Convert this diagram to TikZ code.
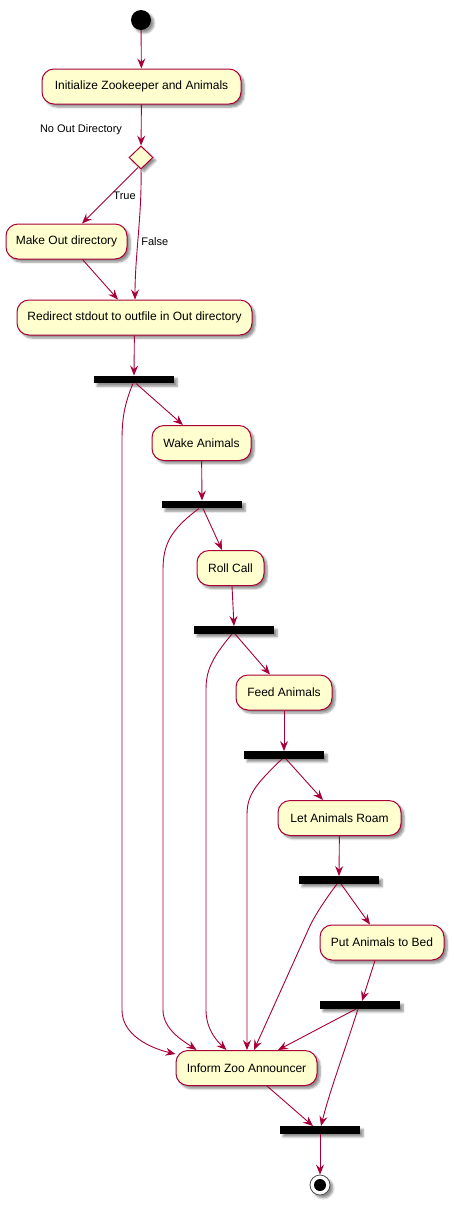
\documentclass[tikz,border=0pt]{standalone}
\usepackage{fontspec}
\setmainfont{Liberation Sans}
\usetikzlibrary{shapes.geometric,shadows.blur,arrows.meta,calc}
\definecolor{boxfill}{HTML}{FEFECE}
\definecolor{boxline}{HTML}{A80036}
\tikzset{
  shad/.style={blur shadow={shadow xshift=3pt,shadow yshift=-3pt,shadow blur steps=6,shadow opacity=45}},
  act/.style={shad,draw=boxline,fill=boxfill,line width=1pt,rounded corners=12pt,inner sep=0pt,
     minimum height=35pt,font=\fontsize{12}{14}\selectfont},
  bar/.style={shad,fill=black,minimum width=80pt,minimum height=7.5pt,inner sep=0pt},
  flow/.style={draw=boxline,line width=0.9pt,-{Stealth[length=10pt,width=8pt,inset=3.5pt]}},
  lab/.style={font=\fontsize{11}{13}\selectfont,inner sep=0pt}
}
\begin{document}
\begin{tikzpicture}[x=1pt,y=-1pt]
\useasboundingbox (0,0) rectangle (454,1205);
\node[shad,circle,fill=black,minimum size=20pt,inner sep=0pt] (start) at (141,20) {};
\node[act,minimum width=199pt] (init) at (141.5,86.5) {Initialize Zookeeper and Animals};
\node[shad,diamond,draw=boxline,fill=boxfill,line width=1pt,minimum width=24pt,minimum height=23pt,inner sep=0pt] (dia) at (141,157.5) {};
\node[lab] (nod) at (81,130) {No Out Directory};
\node[act,minimum width=121pt] (mk) at (66.5,241.5) {Make Out directory};
\node[act,minimum width=235pt] (redir) at (134.5,317.5) {Redirect stdout to outfile in Out directory};
\node[bar] (b1) at (134,379.5) {};
\node[act,minimum width=99pt] (wake) at (201.5,443) {Wake Animals};
\node[bar] (b2) at (202,504.5) {};
\node[act,minimum width=67pt] (roll) at (230.5,568) {Roll Call};
\node[bar] (b3) at (234,630) {};
\node[act,minimum width=96pt] (feed) at (284,692.5) {Feed Animals};
\node[bar] (b4) at (284,755) {};
\node[act,minimum width=123pt] (roam) at (339.5,818) {Let Animals Roam};
\node[bar] (b5) at (339,880) {};
\node[act,minimum width=124pt] (bed) at (382,942.5) {Put Animals to Bed};
\node[bar] (b6) at (360,1005) {};
\node[act,minimum width=141pt] (inform) at (246.5,1068) {Inform Zoo Announcer};
\node[bar] (b7) at (320,1130) {};
\node[shad,circle,draw=black!70,fill=white,line width=0.8pt,minimum size=20pt,inner sep=0pt] (end) at (320,1185) {};
\fill[black] (end.center) circle (6pt);

\draw[flow] (start) -- (init);
\draw[flow] (init) -- (dia);
\draw[flow] ([xshift=-3pt,yshift=2pt]dia.south) -- node[lab,pos=0.5,right=3pt] {True} ([xshift=15.5pt]mk.north);
\draw[flow] (dia.south) .. controls (142,215) and (135,255) .. node[lab,pos=0.55,right=3pt] {False} ([xshift=0.5pt]redir.north);
\draw[flow] ([xshift=16pt]mk.south) -- ([xshift=-16.5pt]redir.north);
\draw[flow] (redir) -- (b1);
\draw[flow] ([xshift=2pt]b1.south) -- ([xshift=-18.5pt]wake.north);
\draw[flow] ([xshift=-1pt]b1.south) .. controls (124,405) and (122,420) .. (122,440) -- (122,1010) .. controls (122,1035) and (150,1048) .. ([yshift=14pt]inform.west);
\draw[flow] (wake) -- (b2);
\draw[flow] ([xshift=1pt]b2.south) -- ([xshift=-8.5pt]roll.north);
\draw[flow] ([xshift=-3pt]b2.south) .. controls (170,530) and (163,545) .. (163,570) -- (163,1010) .. controls (163,1030) and (185,1042) .. ([xshift=-50pt]inform.north);
\draw[flow] ([xshift=1.5pt]roll.south) -- (b3.north);
\draw[flow] ([xshift=1pt]b3.south) -- ([xshift=-14pt]feed.north);
\draw[flow] ([xshift=-2pt]b3.south) .. controls (212,658) and (206,670) .. (206,690) -- (206,1010) .. controls (206,1030) and (218,1042) .. ([xshift=-20pt]inform.north);
\draw[flow] (feed) -- (b4);
\draw[flow] ([xshift=2pt]b4.south) -- ([xshift=-16.5pt]roam.north);
\draw[flow] ([xshift=-2pt]b4.south) .. controls (255,785) and (247,795) .. (247,815) -- ([xshift=0.5pt]inform.north);
\draw[flow] ([xshift=2pt]b5.south) -- ([xshift=-12pt]bed.north);
\draw[flow] ([xshift=-2pt]b5.south) .. controls (325,900) and (315,915) .. (309,928) -- ([xshift=7.5pt]inform.north);
\draw[flow] (roam) -- (b5);
\draw[flow] ([xshift=-7pt]bed.south) -- ([xshift=2pt]b6.north);
\draw[flow] ([xshift=-4pt]b6.south) -- ([xshift=31.5pt]inform.north);
\draw[flow] ([xshift=-2pt]b6.south) .. controls (345,1050) and (330,1090) .. ([xshift=1pt]b7.north);
\draw[flow] ([xshift=20.5pt]inform.south) -- ([xshift=-7pt]b7.north);
\draw[flow] (b7) -- (end);
\end{tikzpicture}
\end{document}
